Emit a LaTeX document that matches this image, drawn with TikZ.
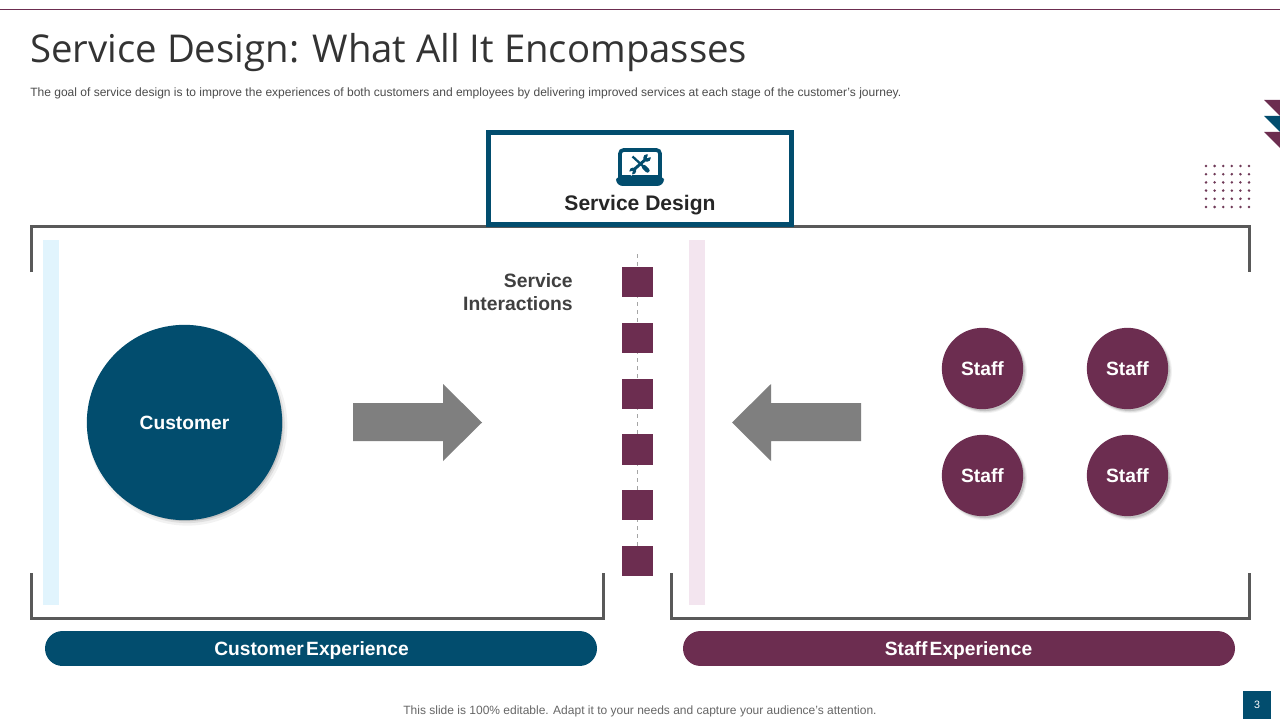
\documentclass[tikz,border=0pt]{standalone}
\usepackage{fontspec}
\setmainfont{Liberation Sans}
\newfontfamily\titlefont{Open Sans}
\usetikzlibrary{shadows}
\definecolor{teal}{HTML}{024D6E}
\definecolor{maroon}{HTML}{6C2D50}
\definecolor{frame}{HTML}{595959}
\definecolor{pxgray}{HTML}{7F7F7F}
\definecolor{paleblue}{HTML}{E1F4FD}
\definecolor{palepink}{HTML}{F3E5EF}
\newcommand{\tightwords}{\spaceskip=0.12em\relax}
\tikzset{
  x=0.75pt,y=-0.75pt,
  softshadow/.style={
    drop shadow={shadow xshift=2pt,shadow yshift=-2.2pt,shadow scale=1.025,fill=black,opacity=.05},
    drop shadow={shadow xshift=2pt,shadow yshift=-2.2pt,shadow scale=1.0,fill=black,opacity=.08},
    drop shadow={shadow xshift=1.7pt,shadow yshift=-1.9pt,shadow scale=.985,fill=black,opacity=.12}},
  whitelabel/.style={text=white,font=\bfseries\fontsize{14.4}{18}\selectfont,inner sep=0pt},
  staffdisc/.style={circle,fill=maroon,minimum size=61pt,inner sep=0pt,softshadow,whitelabel},
  sq/.style={fill=maroon,minimum width=23.2pt,minimum height=22.7pt,inner sep=0pt},
  pill/.style={rounded corners=13.1pt,minimum width=414pt,minimum height=26.2pt,inner sep=0pt},
  bracket/.style={draw=frame,line width=2.25pt,miter limit=10},
  blockarrow/.style={fill=pxgray},
  bar/.style={minimum width=12pt,minimum height=273.7pt,inner sep=0pt},
}
\begin{document}
\begin{tikzpicture}
\useasboundingbox (0,0) rectangle (1280,720);
\fill[white] (0,0) rectangle (1280,720);
% top rule
\draw[maroon,line width=.75pt] (0,9.5) -- (1280,9.5);
% title
\node[anchor=west,inner sep=0pt,text=black!80,font=\titlefont\fontsize{28.75}{34}\selectfont] (title) at (30,52.5) {Service Design: What All It Encompasses};
\node[anchor=west,inner sep=0pt,text=black!70,font=\fontsize{9.02}{11}\selectfont] (sub) at (30,93) {The goal of service design is to improve the experiences of both customers and employees by delivering improved services at each stage of the customer’s journey.};
% corner triangles
\fill[maroon] (1264,100) -- (1280,100) -- (1280,116) -- cycle;
\fill[teal] (1264,116) -- (1280,116) -- (1280,132) -- cycle;
\fill[maroon] (1264,132) -- (1280,132) -- (1280,148) -- cycle;
% dots
\foreach \i in {0,...,5}\foreach \j in {0,...,5}
  \fill[maroon!85!gray] ({1206+\i*8.6},{166+\j*8.2}) circle[radius=1.4];
% pale bars
\node[bar,fill=paleblue,anchor=north west] (leftbar) at (43,240) {};
\node[bar,fill=palepink,anchor=north west] (rightbar) at (689,240) {};
% brackets
\draw[bracket] (31,272) -- (31,227) -- (1249.5,227) -- (1249.5,272);
\draw[bracket] (31,573) -- (31,618) -- (603.5,618) -- (603.5,573);
\draw[bracket] (671.5,573) -- (671.5,618) -- (1249.5,618) -- (1249.5,573);
% service design box
\node[draw=teal,line width=3.75pt,fill=white,minimum width=227.25pt,minimum height=69pt,inner sep=0pt] (sdbox) at (640,178.5) {};
\node[inner sep=0pt,text=black!85,font=\bfseries\fontsize{15.8}{19}\selectfont] (sdlabel) at (640,205.5) {Service Design};
% laptop icon
\draw[teal,line width=2.8pt,rounded corners=3pt] (619.9,178) -- (619.9,149.9) -- (660.1,149.9) -- (660.1,178);
\fill[teal] (619,175.3) rectangle (661,178);
\fill[teal,rounded corners=2pt] (616,177.4) -- (664,177.4) -- (664,182) -- (660,186) -- (620,186) -- (616,182) -- cycle;
% wrench
\draw[teal,line width=2.2pt] (633.5,170) -- (646,159);
\fill[teal] (647,158) circle[radius=3.8];
\fill[white] (647,158) -- (648.5,152) -- (653,156.5) -- cycle;
\fill[teal] (632.8,171) circle[radius=3.4];
\fill[white] (632.8,171) -- (627.5,172) -- (631.5,176) -- cycle;
% screwdriver
\draw[teal,line width=1.7pt] (632.5,156.5) -- (644.5,167.5);
\draw[teal,line width=3.2pt,line cap=round] (644,167) -- (647.5,170.5);
% service interactions
\draw[pxgray!70,line width=.75pt,dash pattern=on 3pt off 3pt] (637.5,254) -- (637.5,576);
\node[anchor=east,align=right,inner sep=0pt,text=black!75,font=\bfseries\fontsize{14.5}{17.2}\selectfont] (silabel) at (573,292) {Service\\Interactions};
\foreach \n/\y in {a/282,b/338,c/394,d/449.5,e/505,f/561}
  \node[sq] (s\n) at (637.5,\y) {};
% customer
\node[circle,fill=teal,minimum size=146.5pt,inner sep=0pt,softshadow,whitelabel] (customer) at (184.5,422.5) {Customer};
% arrows
\fill[blockarrow] (353,403) -- (443,403) -- (443,384) -- (482,422.5) -- (443,461) -- (443,441) -- (353,441) -- cycle;
\fill[blockarrow] (861,403) -- (771,403) -- (771,384) -- (732,422.5) -- (771,461) -- (771,441) -- (861,441) -- cycle;
% staff
\node[staffdisc] (st1) at (982.5,368.5) {Staff};
\node[staffdisc] (st2) at (1127.5,368.5) {Staff};
\node[staffdisc] (st3) at (982.5,475.5) {Staff};
\node[staffdisc] (st4) at (1127.5,475.5) {Staff};
% pills
\node[pill,fill=teal] (cx) at (321,648.5) {};
\node[pill,fill=maroon] (sx) at (959,648.5) {};
\node[whitelabel] (cxlabel) at (311.5,650.5) {\tightwords Customer Experience};
\node[whitelabel] (sxlabel) at (958.5,650.5) {\tightwords Staff Experience};
% footer
\node[inner sep=0pt,text=black!60,font=\fontsize{9}{11}\selectfont] (foot) at (640,711) {This slide is 100\% editable. Adapt it to your needs and capture your audience's attention.};
\node[fill=teal,minimum size=21pt,inner sep=0pt,text=white,font=\fontsize{8}{10}\selectfont] (page) at (1257,705) {3};
\end{tikzpicture}
\end{document}
